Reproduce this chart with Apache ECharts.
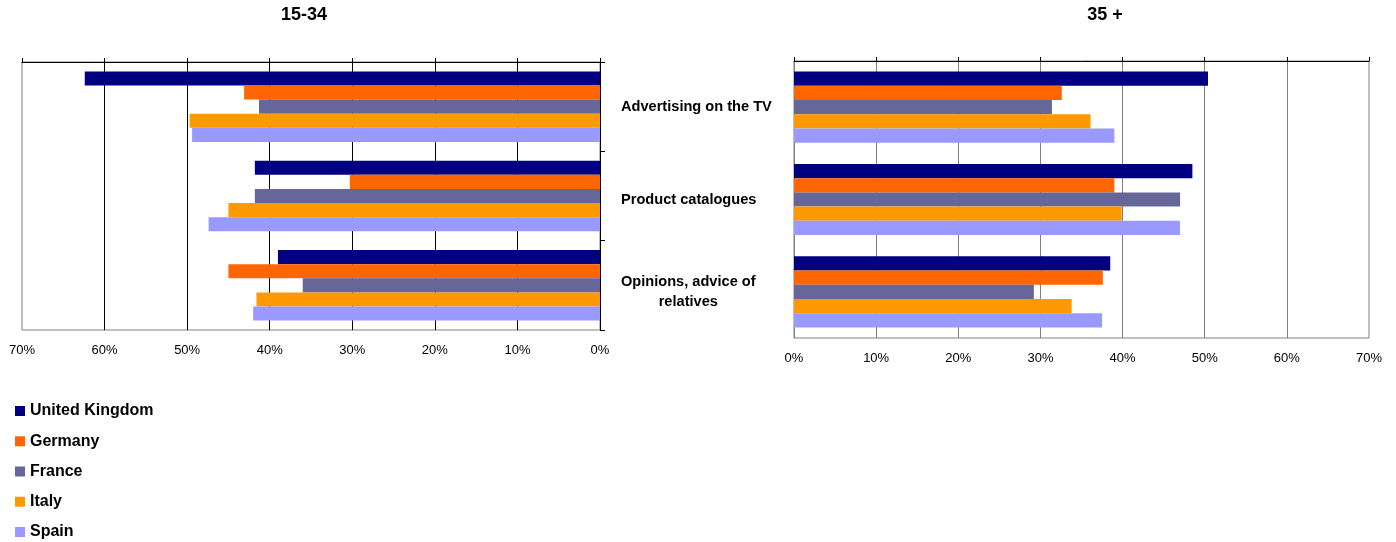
<!DOCTYPE html>
<html>
<head>
<meta charset="utf-8">
<title>Information sources by age group</title>
<script src="https://cdn.jsdelivr.net/npm/echarts@6/dist/echarts.min.js"></script>
<style>
  html, body { margin: 0; padding: 0; background: #fff; }
  #chart { width: 1396px; height: 542px; }
</style>
</head>
<body>
<div id="chart"></div>
<script>
// Categories shown on the shared vertical axis
const categories = ['Advertising on the TV', 'Product catalogues', 'Opinions, advice of relatives'];
const countries = ['United Kingdom', 'Germany', 'France', 'Italy', 'Spain'];
const countryColors = ['#000080', '#FF6600', '#666699', '#FF9900', '#9999FF'];
const groupTitles = ['15-34', '35 +'];

// Share of respondents (%) aged 15-34
const ukYoung = [62.4, 41.8, 39.0];
const deYoung = [43.1, 30.3, 45.0];
const frYoung = [41.3, 41.8, 36.0];
const itYoung = [49.7, 45.0, 41.6];
const esYoung = [49.4, 47.4, 42.0];

// Share of respondents (%) aged 35 and over
const ukOlder = [50.4, 48.5, 38.5];
const deOlder = [32.6, 39.0, 37.6];
const frOlder = [31.4, 47.0, 29.2];
const itOlder = [36.1, 39.9, 33.8];
const esOlder = [39.0, 47.0, 37.5];

// Value axis range (percent)
const axisMin = 0;
const axisMax = 70;
const axisStep = 10;

const youngData = [ukYoung, deYoung, frYoung, itYoung, esYoung];
const olderData = [ukOlder, deOlder, frOlder, itOlder, esOlder];

const FONT = '"Liberation Sans", Arial, sans-serif';

// Wrap a category name into lines of at most maxChars characters
function wrapWords(text, maxChars) {
  const words = text.split(' ');
  const lines = [];
  let cur = '';
  words.forEach(w => {
    const next = cur ? cur + ' ' + w : w;
    if (next.length > maxChars && cur) { lines.push(cur); cur = w; }
    else cur = next;
  });
  if (cur) lines.push(cur);
  return lines;
}

function valueAxis(grid, inverse, pos, gridColor) {
  // bottom axis carries labels and gridlines; top axis carries the line and ticks
  if (pos === 'bottom') {
    return {
      type: 'value', gridIndex: grid, position: 'bottom', inverse: inverse,
      min: axisMin, max: axisMax, interval: axisStep,
      axisLine: { show: false }, axisTick: { show: false },
      axisLabel: { formatter: '{value}%', margin: 14, fontSize: 13, color: '#000', fontFamily: FONT },
      splitLine: { show: true, showMinLine: false, showMaxLine: false, lineStyle: { color: gridColor, width: 1 } }
    };
  }
  return {
    type: 'value', gridIndex: grid, position: 'top', inverse: inverse,
    min: axisMin, max: axisMax, interval: axisStep,
    axisLine: { show: true, onZero: false, lineStyle: { color: '#000', width: 1 } },
    axisTick: { show: true, inside: false, length: 4, lineStyle: { color: '#000' } },
    axisLabel: { show: false },
    splitLine: { show: false }
  };
}

const series = [];
countries.forEach((name, i) => {
  series.push({
    name: name, type: 'bar', xAxisIndex: 0, yAxisIndex: 0,
    data: youngData[i], barGap: '0%', barCategoryGap: '21%',
    itemStyle: { color: countryColors[i] }
  });
  series.push({
    name: name, type: 'bar', xAxisIndex: 2, yAxisIndex: 1,
    data: olderData[i], barGap: '0%', barCategoryGap: '23%',
    itemStyle: { color: countryColors[i] }
  });
});

const chart = echarts.init(document.getElementById('chart'), null, { renderer: 'canvas' });
chart.setOption({
  animation: false,
  backgroundColor: '#fff',
  textStyle: { fontFamily: FONT },
  color: countryColors,
  title: [
    { text: groupTitles[0], left: 304, top: 6, textAlign: 'center', padding: 0,
      textStyle: { fontSize: 18, fontWeight: 'bold', color: '#000', fontFamily: FONT } },
    { text: groupTitles[1], left: 1105, top: 6, textAlign: 'center', padding: 0,
      textStyle: { fontSize: 18, fontWeight: 'bold', color: '#000', fontFamily: FONT } }
  ],
  legend: {
    data: countries, orient: 'vertical', left: 10, top: 396, height: 160,
    icon: 'rect', itemWidth: 10, itemHeight: 10, itemGap: 10.25,
    textStyle: { fontSize: 16, fontWeight: 'bold', color: '#000', lineHeight: 20, fontFamily: FONT }
  },
  grid: [
    { left: 22, top: 62, width: 578, height: 268, show: true, borderColor: '#808080', borderWidth: 1, backgroundColor: 'transparent' },
    { left: 794, top: 61, width: 575, height: 277, show: true, borderColor: '#808080', borderWidth: 1, backgroundColor: 'transparent' }
  ],
  xAxis: [
    valueAxis(0, true, 'bottom', '#000'),
    valueAxis(0, true, 'top'),
    valueAxis(1, false, 'bottom', '#808080'),
    valueAxis(1, false, 'top')
  ],
  yAxis: [
    {
      type: 'category', gridIndex: 0, data: categories, inverse: true, position: 'right',
      axisLine: { show: true, onZero: false, lineStyle: { color: '#000', width: 1 } },
      axisTick: { show: true, inside: false, length: 5, lineStyle: { color: '#000' } },
      axisLabel: { show: false }, splitLine: { show: false }
    },
    {
      type: 'category', gridIndex: 1, data: categories, inverse: true, position: 'left',
      axisLine: { show: true, onZero: false, lineStyle: { color: '#808080', width: 1 } },
      axisTick: { show: false },
      axisLabel: {
        margin: 173, align: 'left',
        formatter: v => wrapWords(v, 21).map(l => '{c|' + l + '}').join('\n'),
        rich: { c: { align: 'center', fontSize: 14.6, fontWeight: 'bold', color: '#000', lineHeight: 20, fontFamily: FONT } }
      },
      splitLine: { show: false }
    }
  ],
  series: series
});
</script>
</body>
</html>
